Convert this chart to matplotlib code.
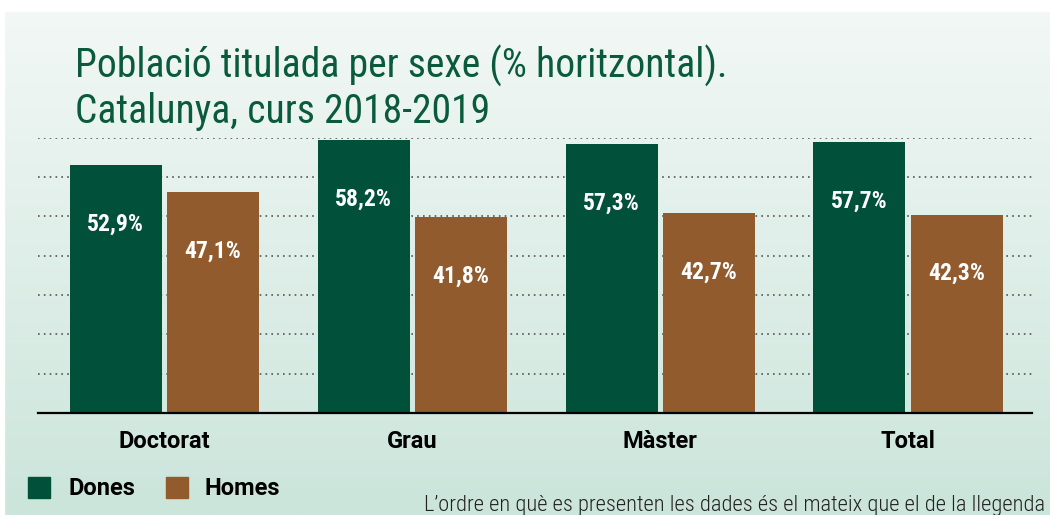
import numpy as np
import matplotlib
matplotlib.use("Agg")
import matplotlib.pyplot as plt
from matplotlib.patches import Rectangle

# ---- data ----
categories = ["Doctorat", "Grau", "Màster", "Total"]
dones = [52.9, 58.2, 57.3, 57.7]
homes = [47.1, 41.8, 42.7, 42.3]
series_names = ["Dones", "Homes"]
title_lines = ["Població titulada per sexe (% horitzontal).", "Catalunya, curs 2018-2019"]
footnote = "L’ordre en què es presenten les dades és el mateix que el de la llegenda"

C_DONES = "#00503a"
C_HOMES = "#925b2e"
C_TITLE = "#0a5a3c"
FONT = ["Roboto Condensed", "DejaVu Sans"]
FONT_W = ["Roboto", "DejaVu Sans"]

W, H = 1050, 515
fig = plt.figure(figsize=(W / 100, H / 100), dpi=100)

# background gradient
bg = fig.add_axes([0, 0, 1, 1])
bg.set_axis_off()
top_c = np.array([243, 248, 246]) / 255
bot_c = np.array([203, 229, 219]) / 255
t = np.linspace(0, 1, 256)[:, None]
grad = top_c[None, :] * (1 - t) + bot_c[None, :] * t
img = np.repeat(grad[:, None, :], 2, axis=1)
bg.imshow(img, aspect="auto", extent=[0, 1, 0, 1], origin="upper")
bg.add_patch(Rectangle((0, 1 - 11 / H), 1, 11 / H, color="white", zorder=3))
bg.add_patch(Rectangle((0, 0), 4 / W, 1, color="white", zorder=3))
bg.set_xlim(0, 1)
bg.set_ylim(0, 1)

# main axes
x0, x1 = 38, 1032
ybase, ytop = 413, 137.7
ax = fig.add_axes([x0 / W, (H - ybase) / H, (x1 - x0) / W, (ybase - ytop) / H])
ax.patch.set_alpha(0)
ymax = 58.7
ax.set_ylim(0, ymax)
ax.set_xlim(-0.51, 3.50)

x = np.arange(len(categories))
bw = 0.371
off = 0.196
ax.bar(x - off, dones, bw, color=C_DONES, zorder=3, label=series_names[0])
ax.bar(x + off, homes, bw, color=C_HOMES, zorder=3, label=series_names[1])

for xs, vals in ((x - off, dones), (x + off, homes)):
    for xi, v in zip(xs, vals):
        ax.text(xi, v - 12.6, f"{v:.1f}%".replace(".", ","), ha="center", va="center",
                color="white", fontsize=17, fontweight="bold", family=FONT, zorder=4)

for gy in np.linspace(0, ymax, 8)[1:]:
    ax.axhline(gy, color="#555555", lw=1.2, linestyle=(0, (1, 2.5)), zorder=1)

for s in ["top", "right", "left"]:
    ax.spines[s].set_visible(False)
ax.spines["bottom"].set_color("black")
ax.spines["bottom"].set_linewidth(1.6)
ax.spines["bottom"].set_zorder(5)
ax.set_yticks([])
ax.set_xticks(x)
ax.set_xticklabels(categories, fontsize=17, fontweight="bold", family=FONT_W)
ax.tick_params(axis="x", length=0, pad=12)

# title
fig.text(75 / W, 1 - 78 / H, title_lines[0], fontsize=28.5, color=C_TITLE, family=FONT,
         va="baseline", ha="left")
fig.text(75 / W, 1 - 123 / H, title_lines[1], fontsize=28.5, color=C_TITLE, family=FONT,
         va="baseline", ha="left")

# legend
for (lx, name, col, tx) in ((28, series_names[0], C_DONES, 68), (166, series_names[1], C_HOMES, 205)):
    bg.add_patch(Rectangle((lx / W, 1 - 498 / H), 22 / W, 21 / H, color=col, zorder=4))
    fig.text(tx / W, 1 - 495 / H, name, fontsize=17, fontweight="bold", family=FONT_W,
             va="baseline", ha="left", color="black")

fig.text(1045 / W, 1 - 511 / H, footnote, fontsize=16.2, family=FONT, fontweight="light",
         color="#222222", va="baseline", ha="right")

fig.savefig("out.png", dpi=100)
